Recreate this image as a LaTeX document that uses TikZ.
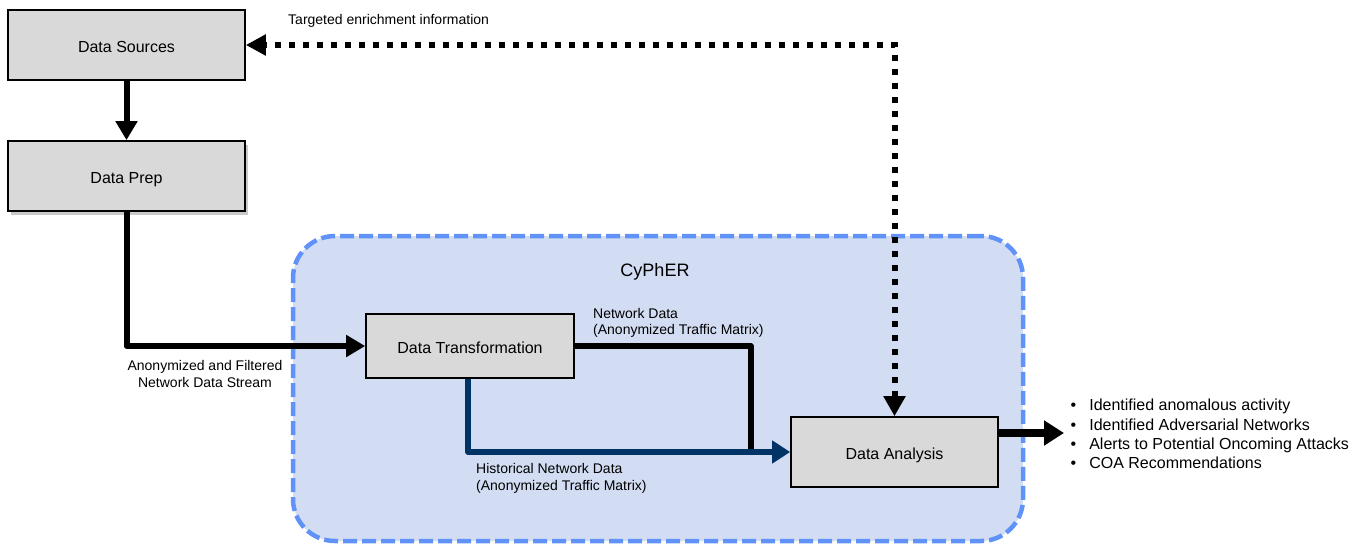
\documentclass[tikz,border=0pt]{standalone}
\usepackage{fontspec}
\setmainfont{Liberation Sans}
\usetikzlibrary{arrows.meta,shadows}
\definecolor{boxgray}{HTML}{D9D9D9}
\definecolor{regionfill}{HTML}{D2DDF3}
\definecolor{regionedge}{HTML}{6092F7}
\definecolor{histblue}{HTML}{003366}
\begin{document}
\begin{tikzpicture}[x=1pt,y=-1pt,
  box/.style={draw=black, line width=1.6pt, fill=boxgray, inner sep=0pt, text height=15.5pt, text depth=0pt, font=\fontsize{16}{19}\selectfont},
  region/.style={draw=regionedge, fill=regionfill, line width=4.5pt, dash pattern=on 14pt off 5pt, rounded corners=42pt, inner sep=0pt},
  flow/.style={draw=black, line width=6pt, line join=round},
  bigtip/.style={-{Triangle[length=19pt,width=21pt]}},
  histline/.style={draw=histblue, line width=5.5pt, line join=round, -{Triangle[length=18pt,width=22pt]}},
  dotline/.style={draw=black, line width=6pt, dash pattern=on 6pt off 8pt, {Triangle[length=20pt,width=21pt]}-{Triangle[length=20pt,width=20pt]}},
  lbl/.style={font=\fontsize{14}{16.5}\selectfont, inner sep=0pt},
]
\useasboundingbox (0,0) rectangle (1368,546);

% CyPhER region
\node[region, minimum width=730pt, minimum height=305pt] (cypher) at (658,388.5) {};
\node[inner sep=0pt, font=\fontsize{18}{21}\selectfont] (title) at (655,272) {CyPhER};

% boxes
\node[box, minimum width=237pt, minimum height=70pt] (ds) at (126.5,45) {Data Sources};
\node[box, minimum width=237pt, minimum height=70pt,
      drop shadow={shadow xshift=3pt, shadow yshift=-4pt, opacity=0.3, fill=black!70}] (dp) at (126.5,176) {Data Prep};
\node[box, minimum width=208pt, minimum height=64pt] (dt) at (470,346) {Data Transformation};
\node[box, minimum width=207pt, minimum height=70pt] (da) at (894.5,452) {Data Analysis};

% coordinates for free ends
\coordinate (ndend) at (751,450);
\coordinate (outend) at (1064,433);

% connectors
\draw[flow, bigtip] (ds) -- (dp);
\draw[flow, bigtip] (dp.south) |- (dt.west);
\draw[flow, line width=5.5pt] (dt.east) -| (ndend);
\draw[histline] ([xshift=-2pt]dt.south) |- (da.west);
\draw[dotline] (da.north) |- (ds.east);
\draw[flow, line width=8pt, -{Triangle[length=20pt,width=24pt]}] ([yshift=19pt]da.east) -- (outend);

% labels
\node[lbl, anchor=west] (tlabel) at (288,21) {Targeted enrichment information};
\node[lbl, align=center] (alabel) at (205,374) {Anonymized and Filtered\\Network Data Stream};
\node[lbl, align=left, anchor=west] (nlabel) at (593,323) {Network Data\\(Anonymized Traffic Matrix)};
\node[lbl, align=left, anchor=west] (hlabel) at (476,478.5) {Historical Network Data\\(Anonymized Traffic Matrix)};
\node[inner sep=0pt, anchor=west, font=\fontsize{16}{19.3}\selectfont] (outputs) at (1070.5,436)
  {\begin{tabular}{@{}l@{\hspace{13pt}}l@{}}
   • & Identified anomalous activity\\
   • & Identified Adversarial Networks\\
   • & Alerts to Potential Oncoming Attacks\\
   • & COA Recommendations
   \end{tabular}};
\end{tikzpicture}
\end{document}
